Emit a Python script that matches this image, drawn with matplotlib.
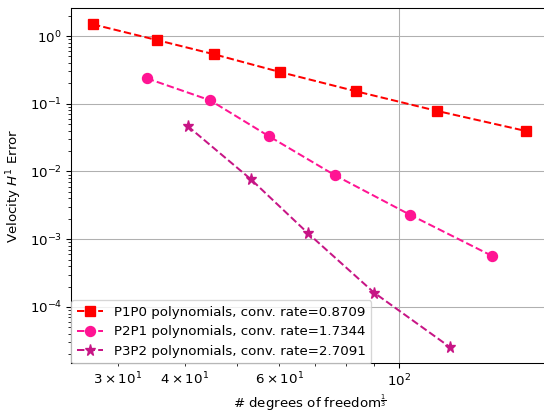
import matplotlib
matplotlib.use("Agg")
import matplotlib.pyplot as plt

# P1P0
x1 = [27.0, 35.5, 45.4, 60.2, 83.4, 118.1, 172.6]
e1 = [1.488, 0.873, 0.537, 0.294, 0.1527, 0.0782, 0.0396]
# P2P1
x2 = [34.0, 44.6, 57.3, 76.0, 105.2, 149.0]
e2 = [0.2375, 0.1125, 0.0334, 0.00887, 0.00228, 5.71e-4]
# P3P2
x3 = [40.5, 53.1, 67.9, 90.0, 124.7]
e3 = [0.0469, 0.00769, 0.001216, 1.63e-4, 2.54e-5]

labels = ["P1P0 polynomials, conv. rate=0.8709",
          "P2P1 polynomials, conv. rate=1.7344",
          "P3P2 polynomials, conv. rate=2.7091"]

DPI = 96
fig = plt.figure(figsize=(544/DPI, 413/DPI), dpi=DPI)
ax = fig.add_axes([71.3/544, 1-363.4/413, 476.3/544, 355.2/413])
ax.loglog(x1, e1, 's--', color='red', markersize=7, label=labels[0])
ax.loglog(x2, e2, 'o--', color='deeppink', markersize=7.5, label=labels[1])
ax.loglog(x3, e3, '*--', color='mediumvioletred', markersize=8.5, label=labels[2])
ax.grid(True, which='major')
ax.set_xlabel(r"# degrees of freedom$^{\frac{1}{3}}$", labelpad=2.5)
ax.set_ylabel(r"Velocity $H^1$ Error")
ax.legend(loc='lower left', borderaxespad=0)
fig.savefig("out.png", dpi=DPI)
